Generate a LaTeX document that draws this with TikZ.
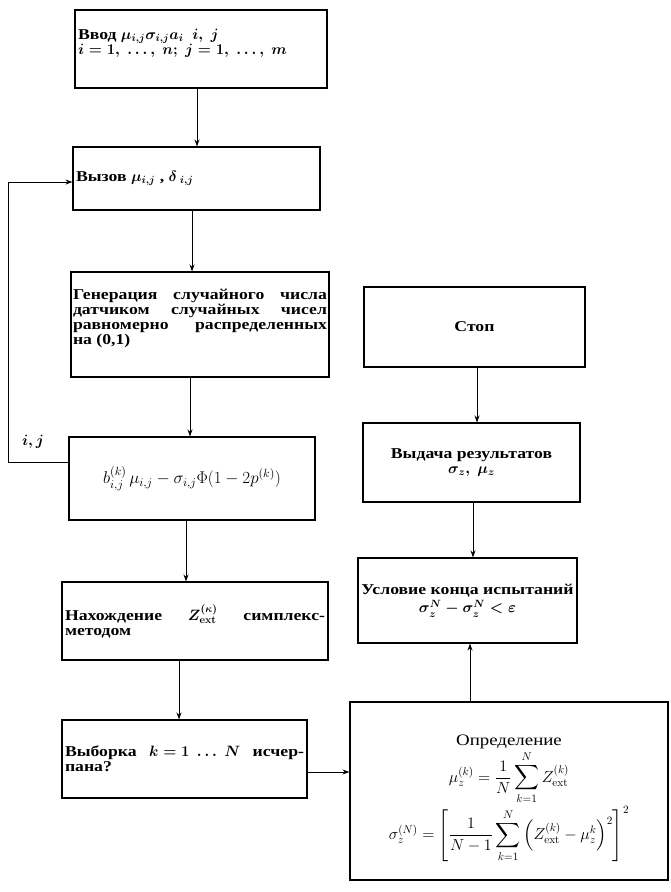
\RequirePackage{fix-cm}
\documentclass[tikz,border=0pt]{standalone}
\usepackage{amsmath}
\usepackage[no-math]{fontspec}
\setmainfont{Liberation Serif}[FakeStretch=1.18]
\usetikzlibrary{arrows.meta}
\begin{document}
\begin{tikzpicture}[x=1pt,y=-1pt,
  box/.style={draw, line width=1.1pt, inner xsep=3pt, inner ysep=2pt,
    font=\bfseries\boldmath\fontsize{15}{15}\selectfont},
  plainbox/.style={draw, line width=1.1pt, inner xsep=3pt, inner ysep=2pt,
    font=\fontsize{15}{15}\selectfont},
  arr/.style={line width=1pt, -{Stealth[length=7pt,width=5pt]}},
  lbl/.style={font=\boldmath\fontsize{15}{15}\selectfont}]
\useasboundingbox (0,0) rectangle (671,892);

\node[box, text width=246pt, minimum height=78pt, align=flush left] (b1) at (201,49)
  {Ввод $\mu_{i,j}\sigma_{i,j}a_i$\ \ $i,\ j$\\ $i=1,\ \dots,\ n;\ j=1,\ \dots,\ m$\\ \mbox{}};
\node[box, text width=241pt, minimum height=63pt, align=flush left] (b2) at (196.5,178.5)
  {Вызов $\mu_{i,j}$ , $\delta_{\;i,j}$};
\node[box, text width=254pt, inner xsep=2pt, minimum height=105pt, align=flush left] (b3) at (200,324.5)
  {Генерация\hfill случайного\hfill числа\\
   датчиком\hfill случайных\hfill чисел\\
   равномерно\hfill распределенных\\
   на (0,1)\\ \mbox{}};
\node[plainbox, text width=240pt, minimum height=83pt, align=flush center,
  font=\fontsize{17}{17}\selectfont] (b4) at (192,478.5)
  {$b^{(k)}_{i,j}\,\mu_{i,j}-\sigma_{i,j}\Phi(1-2p^{(k)})$};
\node[box, text width=260pt, minimum height=78pt, align=flush left] (b5) at (195,621)
  {Нахождение\hfill $Z^{(\kappa)}_{\mathrm{ext}}$\hfill симплекс-\\ методом};
\node[box, text width=239pt, minimum height=78pt, align=flush left] (b6) at (184.5,759)
  {Выборка\hfill $k=1\ \dots\ N$\hfill исчер-\\ пана?};
\node[plainbox, text width=312pt, minimum height=178pt, align=flush center,
  font=\fontsize{16}{17}\selectfont] (b7) at (509,791)
  {\rule{0pt}{26pt}Определение\\[1pt]
   $\displaystyle \mu_z^{(k)}=\frac{1}{N}\sum_{k=1}^{N} Z^{(k)}_{\mathrm{ext}}$\\[1pt]
   $\displaystyle \sigma_z^{(N)}=\left[\frac{1}{N-1}\sum_{k=1}^{N}\left(Z^{(k)}_{\mathrm{ext}}-\mu_z^{k}\right)^{2}\right]^{2}$};
\node[box, text width=219pt, inner xsep=0pt, minimum height=85pt, align=flush center] (b8) at (467.5,600.5)
  {Условие конца испытаний\\[2pt] $\sigma^{N}_{z}-\sigma^{N}_{z}<\varepsilon$};
\node[box, text width=211pt, minimum height=79pt, align=flush center] (b9) at (471.5,462.5)
  {Выдача результатов\\ $\sigma_z,\ \mu_z$};
\node[box, text width=215pt, minimum height=80pt, align=flush center] (b10) at (474.5,327)
  {Стоп};

\coordinate (fbA) at (8,462);
\coordinate (fbB) at (8,182);
\node[lbl] (lij) at (33,442) {$i,j$};

\draw[arr] (b1.south -| 197,0) -- (b2.north -| 197,0);
\draw[arr] (b2.south -| 192,0) -- (b3.north -| 192,0);
\draw[arr] (b3.south -| 190,0) -- (b4.north -| 190,0);
\draw[arr] (b4.south -| 186,0) -- (b5.north -| 186,0);
\draw[arr] (b5.south -| 179,0) -- (b6.north -| 179,0);
\draw[arr] (b6.east |- 0,772) -- (b7.west |- 0,772);
\draw[arr] (b7.north -| 470,0) -- (b8.south -| 470,0);
\draw[arr] (b9.south -| 473,0) -- (b8.north -| 473,0);
\draw[arr] (b10.south -| 477,0) -- (b9.north -| 477,0);
\draw[arr] (b4.west |- fbA) -- (fbA) -- (fbB) -- (b2.west |- fbB);
\end{tikzpicture}
\end{document}
